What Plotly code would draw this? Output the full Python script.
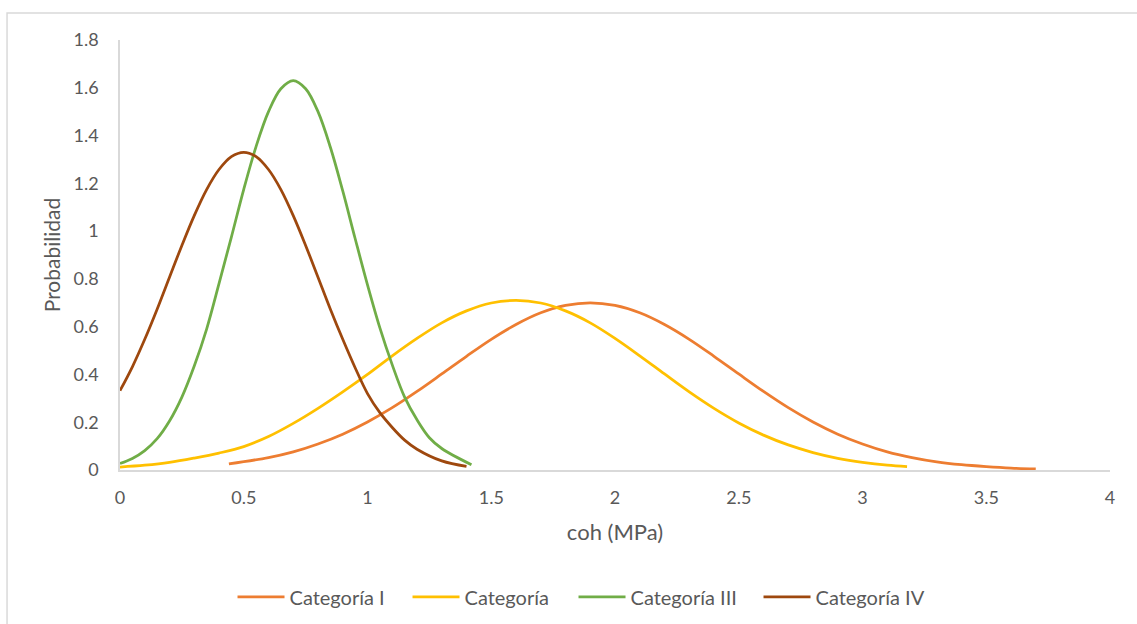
import plotly.graph_objects as go

# ---- data ----
x_cat1 = [0.44, 0.6, 0.7, 0.8, 0.9, 1.0, 1.1, 1.2, 1.3, 1.4, 1.5, 1.6, 1.7, 1.8, 1.9,
          2.0, 2.1, 2.2, 2.3, 2.4, 2.5, 2.6, 2.7, 2.8, 2.9, 3.0, 3.1, 3.2, 3.3, 3.4,
          3.5, 3.6, 3.7]
y_cat1 = [0.026, 0.052, 0.076, 0.109, 0.150, 0.201, 0.261, 0.329, 0.402, 0.476, 0.547,
          0.609, 0.658, 0.689, 0.700, 0.689, 0.658, 0.609, 0.547, 0.476, 0.402, 0.329,
          0.261, 0.201, 0.150, 0.109, 0.076, 0.052, 0.034, 0.022, 0.014, 0.008, 0.005]

x_cat2 = [0.0, 0.1, 0.2, 0.3, 0.4, 0.5, 0.6, 0.7, 0.8, 0.9, 1.0, 1.1, 1.2, 1.3, 1.4,
          1.5, 1.6, 1.7, 1.8, 1.9, 2.0, 2.1, 2.2, 2.3, 2.4, 2.5, 2.6, 2.7, 2.8, 2.9,
          3.0, 3.1, 3.18]
y_cat2 = [0.012, 0.020, 0.032, 0.050, 0.071, 0.098, 0.140, 0.195, 0.258, 0.327, 0.400,
          0.478, 0.551, 0.616, 0.666, 0.699, 0.710, 0.699, 0.666, 0.616, 0.551, 0.478,
          0.402, 0.327, 0.258, 0.197, 0.146, 0.105, 0.073, 0.049, 0.032, 0.020, 0.014]

x_cat3 = [0.0, 0.05, 0.1, 0.15, 0.2, 0.25, 0.3, 0.35, 0.4, 0.45, 0.5, 0.55, 0.6, 0.65,
          0.7, 0.75, 0.8, 0.85, 0.9, 0.95, 1.0, 1.05, 1.1, 1.15, 1.2, 1.25, 1.3, 1.42]
y_cat3 = [0.027, 0.048, 0.081, 0.131, 0.205, 0.305, 0.435, 0.590, 0.780, 0.975, 1.175,
          1.355, 1.500, 1.596, 1.630, 1.596, 1.500, 1.351, 1.168, 0.969, 0.775, 0.595,
          0.440, 0.305, 0.210, 0.135, 0.090, 0.022]

x_cat4 = [0.0, 0.05, 0.1, 0.15, 0.2, 0.25, 0.3, 0.35, 0.4, 0.45, 0.5, 0.55, 0.6, 0.65,
          0.7, 0.75, 0.8, 0.85, 0.9, 0.95, 1.0, 1.05, 1.1, 1.15, 1.2, 1.3, 1.4]
y_cat4 = [0.332, 0.432, 0.547, 0.673, 0.807, 0.940, 1.065, 1.174, 1.258, 1.312, 1.330,
          1.312, 1.258, 1.174, 1.065, 0.940, 0.807, 0.673, 0.547, 0.428, 0.320, 0.240,
          0.178, 0.125, 0.087, 0.038, 0.015]

names = ["Categoría I", "Categoría", "Categoría III", "Categoría IV"]
colors = ["#ED7D31", "#FFC000", "#70AD47", "#9E480E"]
legend_widths = [113, 104, 123, 110]

x_ticks = [0, 0.5, 1, 1.5, 2, 2.5, 3, 3.5, 4]
x_tick_text = ["0", "0.5", "1", "1.5", "2", "2.5", "3", "3.5", "4"]
y_ticks = [0, 0.2, 0.4, 0.6, 0.8, 1.0, 1.2, 1.4, 1.6, 1.8]
y_tick_text = ["0", "0.2", "0.4", "0.6", "0.8", "1", "1.2", "1.4", "1.6", "1.8"]

FONT = "Lato"
TXT = "#595959"

fig = go.Figure()
series = [(x_cat1, y_cat1), (x_cat2, y_cat2), (x_cat3, y_cat3), (x_cat4, y_cat4)]
for (xs, ys), nm, col, lw in zip(series, names, colors, legend_widths):
    fig.add_trace(go.Scatter(
        x=xs, y=ys, name=nm, mode="lines",
        line=dict(color=col, width=2.75, shape="spline", smoothing=1.0),
        legendwidth=lw,
    ))

fig.update_layout(
    width=1137, height=624,
    paper_bgcolor="white", plot_bgcolor="white",
    margin=dict(l=120, r=27, t=40, b=154, autoexpand=False),
    font=dict(family=FONT, color=TXT, size=18),
    showlegend=True,
    legend=dict(
        orientation="h", xref="container", yref="container",
        x=0.2045, xanchor="left", y=0.0433, yanchor="middle",
        itemwidth=47,
        font=dict(family=FONT, size=20, color=TXT),
        bgcolor="rgba(0,0,0,0)", itemclick=False,
    ),
    xaxis=dict(
        range=[0, 4], tickvals=x_ticks, ticktext=x_tick_text,
        showgrid=False, zeroline=False, showline=True,
        linecolor="#D9D9D9", linewidth=1.5, ticks="",
        ticklabelstandoff=11, automargin=False,
        tickfont=dict(family=FONT, size=18, color=TXT),
        title=dict(text="coh (MPa)", font=dict(family=FONT, size=22, color=TXT), standoff=17),
    ),
    yaxis=dict(
        range=[0, 1.8], tickvals=y_ticks, ticktext=y_tick_text,
        showgrid=False, zeroline=False, showline=True,
        linecolor="#D9D9D9", linewidth=1.5, ticks="",
        ticklabelstandoff=16, automargin=False,
        tickfont=dict(family=FONT, size=18, color=TXT),
        title=dict(text="Probabilidad", font=dict(family=FONT, size=21, color=TXT), standoff=7),
    ),
    shapes=[dict(
        type="rect", xref="paper", yref="paper",
        x0=-0.1141, x1=1.0303, y0=-0.372, y1=1.0628,
        line=dict(color="#D9D9D9", width=1.5), fillcolor="rgba(0,0,0,0)", layer="below",
    )],
)

fig.write_html("out.html")
